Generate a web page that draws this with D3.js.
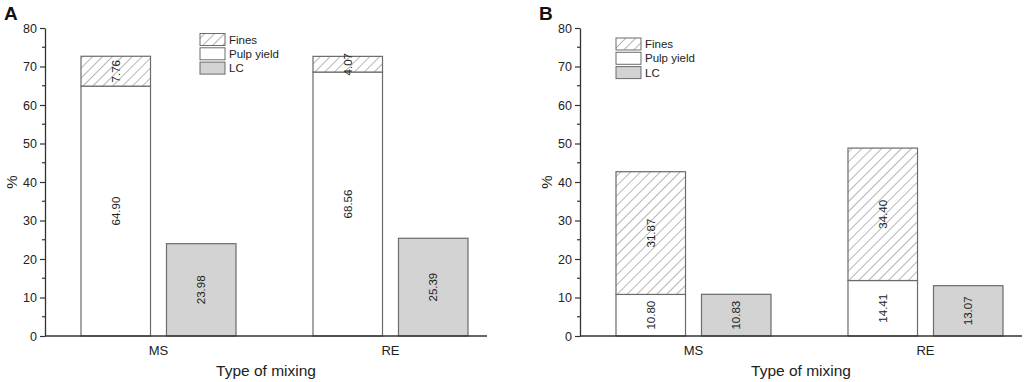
<!DOCTYPE html>
<html><head><meta charset="utf-8">
<script src="https://cdn.jsdelivr.net/npm/d3@7"></script>
<style>
body{margin:0;background:#fff;}
svg{display:block;font-family:Arial,"Liberation Sans",sans-serif;}
</style></head>
<body>
<svg id="chart" width="1024" height="382"></svg>
<script>
const categories = ["MS", "RE"];
const seriesNames = ["Fines", "Pulp yield", "LC"];
const yTicks = [0, 10, 20, 30, 40, 50, 60, 70, 80];
// Panel A
const pulpA = [64.90, 68.56];
const finesA = [7.76, 4.07];
const lcA = [23.98, 25.39];
// Panel B
const pulpB = [10.80, 14.41];
const finesB = [31.87, 34.40];
const lcB = [10.83, 13.07];

const svg = d3.select("#chart");
const defs = svg.append("defs");
const pat = defs.append("pattern").attr("id", "hatch").attr("patternUnits", "userSpaceOnUse")
  .attr("width", 7).attr("height", 7).attr("patternTransform", "rotate(45)");
pat.append("rect").attr("width", 7).attr("height", 7).attr("fill", "#fff");
pat.append("line").attr("x1", 0).attr("y1", 0).attr("x2", 0).attr("y2", 7)
  .attr("stroke", "#6e6e6e").attr("stroke-width", 1);

const strokeCol = "#6b6b6b";
const lcFill = "#d3d3d3";

function panel(cfg) {
  const g = svg.append("g");
  const y = d3.scaleLinear().domain([0, 80]).range([336, 28]);
  const x = d3.scalePoint().domain(categories).range([cfg.x0 + 113.5, cfg.x0 + 345.5]);
  const sub = d3.scaleBand().domain(["stack", "LC"]).range([-77.5, 77.5]).paddingInner(0.187);

  // y axis
  const yAxis = d3.axisLeft(y).tickValues(yTicks).tickSize(5).tickSizeOuter(0).tickPadding(3);
  const ya = g.append("g").attr("transform", `translate(${cfg.x0},0)`).call(yAxis);
  ya.select(".domain").attr("stroke", "#333").attr("stroke-width", 1.3);
  ya.selectAll(".tick line").attr("stroke", "#333").attr("stroke-width", 1.2);
  ya.selectAll(".tick text").attr("font-size", 12.5).attr("fill", "#222").attr("font-family", "Arial, Liberation Sans, sans-serif");
  // minor ticks
  const minor = d3.range(5, 80, 10);
  g.append("g").selectAll("line").data(minor).join("line")
    .attr("x1", cfg.x0 - 3).attr("x2", cfg.x0).attr("y1", d => y(d)).attr("y2", d => y(d))
    .attr("stroke", "#333").attr("stroke-width", 1.2);

  // bars
  const barsG = g.append("g");
  categories.forEach((c, i) => {
    const xs = x(c) + sub("stack");
    const xl = x(c) + sub("LC");
    const bw = sub.bandwidth();
    barsG.append("rect").attr("x", xs).attr("y", y(cfg.pulp[i])).attr("width", bw)
      .attr("height", y(0) - y(cfg.pulp[i])).attr("fill", "#fff").attr("stroke", strokeCol).attr("stroke-width", 1.2);
    const top = cfg.pulp[i] + cfg.fines[i];
    barsG.append("rect").attr("x", xs).attr("y", y(top)).attr("width", bw)
      .attr("height", y(cfg.pulp[i]) - y(top)).attr("fill", "url(#hatch)").attr("stroke", strokeCol).attr("stroke-width", 1.2);
    barsG.append("rect").attr("x", xl).attr("y", y(cfg.lc[i])).attr("width", bw)
      .attr("height", y(0) - y(cfg.lc[i])).attr("fill", lcFill).attr("stroke", strokeCol).attr("stroke-width", 1.2);
    const lab = (cx, cy, t) => barsG.append("text").attr("transform", `translate(${cx},${cy}) rotate(-90)`)
      .attr("text-anchor", "middle").attr("dominant-baseline", "central").attr("font-size", 11.5).attr("fill", "#222").text(t);
    lab(xs + bw / 2, y(cfg.pulp[i] / 2), cfg.pulp[i].toFixed(2));
    lab(xs + bw / 2, y(cfg.pulp[i] + cfg.fines[i] / 2), cfg.fines[i].toFixed(2));
    lab(xl + bw / 2, y(cfg.lc[i] / 2), cfg.lc[i].toFixed(2));
  });

  // x axis
  g.append("line").attr("x1", cfg.x0).attr("x2", cfg.x0 + 442).attr("y1", y(0)).attr("y2", y(0))
    .attr("stroke", "#333").attr("stroke-width", 1.5);
  g.append("g").selectAll("text").data(categories).join("text")
    .attr("x", d => x(d)).attr("y", 355).attr("text-anchor", "middle").attr("font-size", 13).attr("fill", "#222").text(d => d);

  // titles
  g.append("text").attr("x", cfg.x0 + 221).attr("y", 376).attr("text-anchor", "middle")
    .attr("font-size", 15.5).attr("fill", "#222").text("Type of mixing");
  g.append("text").attr("transform", `translate(${cfg.x0 - 34},182) rotate(-90)`).attr("text-anchor", "middle")
    .attr("dominant-baseline", "central").attr("font-size", 15).attr("fill", "#222").text("%");
  g.append("text").attr("x", cfg.x0 - 41).attr("y", 20).attr("font-size", 19).attr("font-weight", "bold")
    .attr("fill", "#111").text(cfg.letter);

  // legend
  const fills = ["url(#hatch)", "#fff", lcFill];
  const lg = g.append("g");
  seriesNames.forEach((s, i) => {
    lg.append("rect").attr("x", cfg.lx).attr("y", cfg.ly + i * 14.3).attr("width", 25).attr("height", 12)
      .attr("fill", fills[i]).attr("stroke", strokeCol).attr("stroke-width", 1);
    lg.append("text").attr("x", cfg.lx + 29).attr("y", cfg.ly + i * 14.3 + 6).attr("dominant-baseline", "central")
      .attr("font-size", 11.5).attr("fill", "#222").text(s);
  });
}

panel({ x0: 45, letter: "A", pulp: pulpA, fines: finesA, lc: lcA, lx: 200, ly: 33.5 });
panel({ x0: 580, letter: "B", pulp: pulpB, fines: finesB, lc: lcB, lx: 616, ly: 38 });
</script>
</body></html>
